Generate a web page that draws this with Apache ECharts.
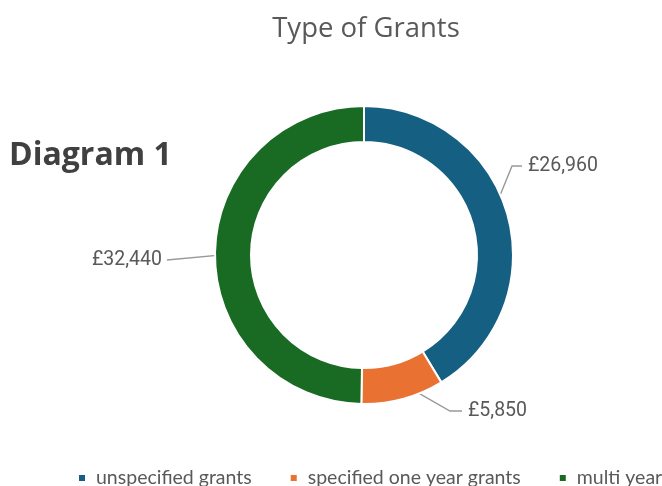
<!DOCTYPE html>
<html>
<head>
<meta charset="utf-8">
<script src="https://cdn.jsdelivr.net/npm/echarts@6/dist/echarts.min.js"></script>
<style>
html,body{margin:0;padding:0;background:#fff;overflow:hidden;width:662px;height:486px;}
#c{width:900px;height:486px;}
</style>
</head>
<body>
<div id="c"></div>
<script>
const categories = ['unspecified grants', 'specified one year grants', 'multi year grants'];
const values = [26960, 5850, 32440];
const colors = ['#156082', '#E97132', '#196B24'];
const titleText = 'Type of Grants';
const sideText = 'Diagram 1';

// layout (pixels)
const center = [364, 255];
const rInner = 113, rOuter = 149;
const labelPlace = [
  {x: 528, y: 166, align: 'left', elbow: [512, 166], end: [522, 166]},
  {x: 468, y: 411, align: 'left', elbow: [450, 411], end: [462, 411]},
  {x: 162, y: 260, align: 'right', elbow: [167, 260], end: [167, 260]}
];

const total = values.reduce((a, b) => a + b, 0);
const midAngles = [];
let acc = 0;
values.forEach(v => { midAngles.push((acc + v / 2) / total * 360); acc += v; });
const rMid = (rInner + rOuter) / 2;

const chart = echarts.init(document.getElementById('c'), null, {renderer: 'canvas'});
chart.setOption({
  animation: false,
  backgroundColor: '#fff',
  color: colors,
  title: [
    {text: titleText, left: 361, top: 10, textAlign: 'center',
     textStyle: {fontFamily: 'Open Sans', fontSize: 27.5, fontWeight: 'normal', color: '#595959'}},
    {text: sideText, left: 4, top: 135,
     textStyle: {fontFamily: 'Open Sans', fontSize: 32, fontWeight: 'bold', color: '#404040'}}
  ],
  legend: {
    left: 77, top: 468, padding: 0,
    icon: 'rect', itemWidth: 8, itemHeight: 8, itemGap: 37,
    textStyle: {fontFamily: 'Lato', fontSize: 19.5, color: '#595959', padding: [0, 0, 0, 5]},
    data: categories
  },
  series: [{
    type: 'pie',
    center: center,
    radius: [rInner, rOuter],
    startAngle: 90,
    clockwise: true,
    itemStyle: {borderColor: '#fff', borderWidth: 2},
    label: {
      show: true, position: 'outside',
      formatter: p => '£' + p.value.toLocaleString('en-GB'),
      fontFamily: 'Roboto', fontSize: 19.5, color: '#595959'
    },
    labelLine: {show: true, lineStyle: {color: '#999999', width: 1.4}},
    labelLayout: function (p) {
      const i = p.dataIndex;
      const L = labelPlace[i];
      const a = midAngles[i] * Math.PI / 180;
      const start = [center[0] + rMid * Math.sin(a), center[1] - rMid * Math.cos(a)];
      return {
        x: L.x, y: L.y, align: L.align, verticalAlign: 'middle',
        labelLinePoints: [start, L.elbow, L.end]
      };
    },
    data: categories.map((n, i) => ({name: n, value: values[i]}))
  }]
});
</script>
</body>
</html>
